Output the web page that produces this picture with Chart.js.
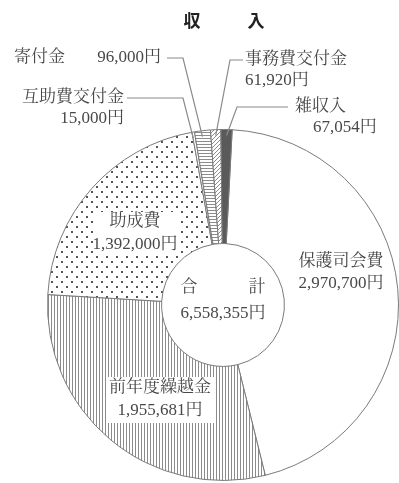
<!DOCTYPE html>
<html>
<head>
<meta charset="utf-8">
<script src="https://cdn.jsdelivr.net/npm/chart.js@4"></script>
<style>
  html, body { margin: 0; padding: 0; background: #fff; }
  #wrap { width: 399px; height: 483px; position: relative; }
</style>
</head>
<body>
<div id="wrap"><canvas id="chart" width="399" height="483"></canvas></div>
<script>
const categories = ['保護司会費', '前年度繰越金', '助成費', '互助費交付金', '寄付金', '事務費交付金', '雑収入'];
const amounts = [2970700, 1955681, 1392000, 15000, 96000, 61920, 67054];
const titleText = '収　　入';
const totalLabel = '合　　　計';

const FONT = '"Liberation Serif", "Noto Serif CJK JP", "Noto Sans CJK JP", serif';
const INK = '#484848';
const LINE = '#8a8a8a';

function yen(v) {
  return v.toLocaleString('en-US') + '円';
}

function makePattern(w, h, draw) {
  const c = document.createElement('canvas');
  c.width = w;
  c.height = h;
  const g = c.getContext('2d');
  g.fillStyle = '#fff';
  g.fillRect(0, 0, w, h);
  draw(g);
  return document.getElementById('chart').getContext('2d').createPattern(c, 'repeat');
}

const vLines = makePattern(3, 3, g => { g.fillStyle = '#8c8c8c'; g.fillRect(0, 0, 1, 3); });
const hLines = makePattern(3, 3, g => { g.fillStyle = '#8c8c8c'; g.fillRect(0, 0, 3, 1); });
const dots = makePattern(10, 10, g => {
  g.fillStyle = '#555';
  g.fillRect(1, 1, 2, 2);
  g.fillRect(6, 6, 2, 2);
});
const diag = makePattern(4, 4, g => {
  g.fillStyle = '#8c8c8c';
  for (let i = 0; i < 4; i++) g.fillRect(3 - i, i, 1, 1);
});

const fills = ['#ffffff', vLines, dots, '#ffffff', hLines, diag, '#5a5a5a'];

// text placed on or beside the pie
const labelPlugin = {
  id: 'labels',
  afterDraw(chart) {
    const ctx = chart.ctx;
    const arcs = chart.getDatasetMeta(0).data;
    const cx = arcs[0].x, cy = arcs[0].y;
    const R = arcs[0].outerRadius;

    ctx.save();
    ctx.textBaseline = 'middle';

    // title
    ctx.fillStyle = '#222';
    ctx.font = 'bold 17px "Noto Sans CJK JP"';
    ctx.textAlign = 'center';
    ctx.fillText('収', 192, 21);
    ctx.fillText('入', 256, 21);

    ctx.font = '17px ' + FONT;

    function box(x1, y1, x2, y2) {
      ctx.fillStyle = '#fff';
      ctx.fillRect(x1, y1, x2 - x1, y2 - y1);
    }
    function text(t, x, y, align) {
      ctx.fillStyle = INK;
      ctx.textAlign = align || 'center';
      ctx.fillText(t, x, y);
    }
    function edge(i) {
      const a = (arcs[i].startAngle + arcs[i].endAngle) / 2;
      return [cx + Math.cos(a) * R, cy + Math.sin(a) * R];
    }
    function leader(points) {
      ctx.strokeStyle = LINE;
      ctx.lineWidth = 1.2;
      ctx.beginPath();
      ctx.moveTo(points[0][0], points[0][1]);
      for (let k = 1; k < points.length; k++) ctx.lineTo(points[k][0], points[k][1]);
      ctx.stroke();
    }

    // inside labels
    text(categories[0], 341, 262);
    text(yen(amounts[0]), 341, 284);

    box(93, 212, 178, 255);
    text(categories[2], 135, 222);
    text(yen(amounts[2]), 135, 245);

    box(106, 377, 214, 423);
    text(categories[1], 160, 388);
    text(yen(amounts[1]), 160, 411);

    // center
    text(totalLabel, cx, 288);
    text(yen(amounts.reduce((a, b) => a + b, 0)), cx, 314);

    // outside labels with leader lines
    text(categories[4], 14, 58, 'left');
    text(yen(amounts[4]), 161, 58, 'right');
    const e4 = edge(4);
    leader([[167, 58], [183, 58], [e4[0], e4[1] + 6]]);

    text(categories[3], 124, 98, 'right');
    text(yen(amounts[3]), 124, 119, 'right');
    const e3 = edge(3);
    leader([[127, 98], [183, 98], [e3[0], e3[1] + 6]]);

    text(categories[5], 245, 60, 'left');
    text(yen(amounts[5]), 245, 81, 'left');
    const e5 = edge(5);
    leader([[243, 60], [230, 60], [e5[0], e5[1] + 6]]);

    text(categories[6], 295, 107, 'left');
    text(yen(amounts[6]), 313, 128, 'left');
    const e6 = edge(6);
    leader([[288, 107], [237, 107], [e6[0], e6[1] + 6]]);

    ctx.restore();
  }
};

new Chart(document.getElementById('chart'), {
  type: 'doughnut',
  data: {
    labels: categories,
    datasets: [{
      data: amounts,
      backgroundColor: fills,
      borderColor: '#7a7a7a',
      borderWidth: 1
    }]
  },
  options: {
    responsive: false,
    animation: false,
    rotation: 3,
    cutout: '35%',
    layout: { padding: { top: 129, bottom: 2, left: 47, right: 0 } },
    plugins: {
      legend: { display: false },
      tooltip: { enabled: false }
    }
  },
  plugins: [labelPlugin]
});
</script>
</body>
</html>
